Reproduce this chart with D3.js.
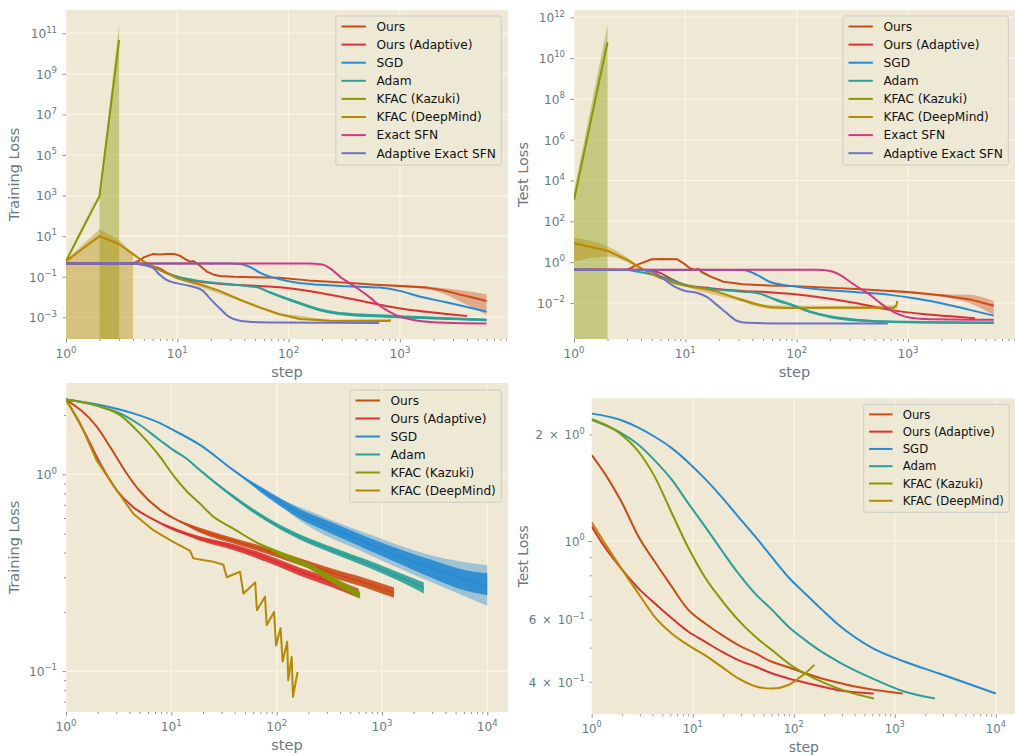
<!DOCTYPE html>
<html><head><meta charset="utf-8">
<script src="https://cdn.jsdelivr.net/npm/d3@7"></script>
<style>body{margin:0;background:#fff} svg{display:block} text{font-family:"DejaVu Sans",sans-serif}</style>
</head><body><svg id="c" width="1015" height="755"></svg>
<script>
// ---------- DATA ----------
const names = ["Ours","Ours (Adaptive)","SGD","Adam","KFAC (Kazuki)","KFAC (DeepMind)","Exact SFN","Adaptive Exact SFN"];
const colors = ["#CB4B16","#DC322F","#268BD2","#2AA198","#859900","#B58900","#D33682","#6C71C4"];

// Top-left: training loss
const tlOurs = [[1,0.45],[3,0.45],[4,0.46],[4.5,0.6],[5,0.9],[6,1.3],[7,1.25],[8,1.3],[9.5,1.3],[10.5,1.1],[12,0.7],[13,0.55],[14,0.6],[16,0.35],[18.4,0.18],[21,0.13],[24,0.108],[32,0.1],[50,0.094],[83,0.089],[150,0.066],[333,0.05],[600,0.04],[1000,0.035],[1750,0.029],[2500,0.021],[3400,0.0135],[4500,0.0095],[6000,0.0063]];
const tlAdaptive = [[1,0.45],[3.5,0.45],[5,0.4],[6,0.33],[7,0.25],[8,0.16],[10,0.1],[12,0.075],[16,0.056],[24,0.045],[37,0.039],[83,0.03],[167,0.018],[333,0.009],[660,0.0042],[1320,0.0022],[2500,0.0015],[4000,0.00115]];
const tlSGD = [[1,0.45],[30,0.45],[37,0.42],[45,0.3],[55,0.16],[65,0.11],[83,0.075],[120,0.05],[190,0.04],[333,0.034],[660,0.029],[1000,0.02],[1500,0.0105],[2600,0.0055],[4000,0.0032],[6000,0.0019]];
const tlAdam = [[1,0.45],[4,0.44],[5,0.38],[6,0.29],[7,0.21],[8,0.15],[10,0.1],[14,0.069],[24,0.047],[42,0.035],[55,0.028],[63,0.02],[83,0.011],[126,0.0049],[190,0.0023],[333,0.0014],[660,0.00115],[1320,0.00098],[6000,0.00074]];
const tlKazuki = [[1,0.59],[2,960],[3,4.6e10]];
const tlDeep = [[1,0.59],[2,10],[3,4],[4,1.3],[5,0.55],[6,0.33],[7,0.21],[8,0.15],[10,0.083],[16.7,0.039],[24,0.02],[37,0.0071],[55,0.003],[83,0.0014],[126,0.00083],[236,0.00068],[780,0.00066],[830,0.00072]];
const tlExact = [[1,0.45],[150,0.45],[200,0.4],[236,0.26],[290,0.1],[355,0.047],[437,0.022],[540,0.0093],[660,0.0037],[815,0.0018],[1000,0.00107],[1500,0.00066],[2600,0.00054],[6000,0.0005]];
const tlAdaptExact = [[1,0.45],[4,0.45],[5,0.4],[6.1,0.26],[7,0.12],[8,0.069],[10,0.047],[13,0.035],[16.7,0.022],[19.6,0.0085],[24,0.0028],[29,0.00107],[36.6,0.00068],[55,0.00057],[83,0.00055],[650,0.00053]];
// bands: [step, low (null = below axis), high]
const tlOursBand = [[700,0.037,0.043],[1000,0.031,0.04],[1750,0.024,0.033],[2500,0.014,0.027],[3400,0.0063,0.022],[6000,0.0013,0.0135]];
const tlKazukiBand = [[1,0.5,0.68],[2,null,1.9e3],[3,null,2.5e11]];
const tlDeepBand = [[1,null,0.65],[2,null,22],[3,null,6.5],[4,null,1.45],[5,0.48,0.65],[10,0.075,0.092],[37,0.0063,0.008],[83,0.0012,0.0016],[236,0.0006,0.00076],[830,0.0006,0.00085]];
// noise envelopes: [step, low, high]
const tlAdamNoise = [[55,0.028,0.028],[63,0.018,0.022],[83,0.0095,0.013],[126,0.0042,0.0058],[190,0.002,0.0028],[333,0.0012,0.0017],[660,0.00098,0.0014],[1320,0.00085,0.0012],[6000,0.00064,0.00088]];

// Top-right: test loss
const trOurs = [[1,0.42],[3,0.42],[3.66,0.74],[5,1.4],[6.4,1.45],[8.4,1.4],[9.6,0.9],[11,0.5],[12.2,0.42],[13,0.48],[14,0.33],[16.7,0.2],[22,0.11],[33,0.083],[57,0.071],[87,0.069],[346,0.049],[1050,0.034],[2070,0.023],[3600,0.015],[5900,0.0074]];
const trAdaptive = [[1,0.42],[4,0.42],[5,0.38],[6,0.29],[7.3,0.16],[10,0.077],[16.7,0.053],[33,0.039],[57,0.034],[87,0.028],[173,0.018],[346,0.0098],[690,0.0046],[1370,0.0029],[2750,0.0021],[4000,0.0018]];
const trSGD = [[1,0.42],[33,0.41],[44,0.24],[57,0.11],[76,0.077],[87,0.069],[173,0.044],[346,0.034],[690,0.025],[1050,0.018],[1800,0.011],[3600,0.0046],[5900,0.0024]];
const trAdam = [[1,0.42],[3,0.41],[3.66,0.35],[6,0.2],[10,0.077],[16.7,0.049],[33,0.036],[47,0.028],[66,0.014],[87,0.0087],[132,0.0037],[200,0.0021],[346,0.00145],[690,0.0012],[5900,0.00107]];
const trKazuki = [[1,1.1e3],[2,6e10]];
const trDeep = [[1,8.5],[2,3.6],[3,1.3],[4,0.51],[5,0.26],[6,0.165],[8,0.093],[10,0.069],[15,0.049],[20,0.034],[30,0.016],[40,0.0098],[50,0.0074],[60,0.0062],[80,0.0057],[200,0.0059],[750,0.0059],[790,0.008],[803,0.0126]];
const trExact = [[1,0.42],[150,0.42],[200,0.37],[245,0.24],[302,0.11],[370,0.052],[457,0.025],[565,0.0098],[690,0.0046],[850,0.0026],[1050,0.0019],[1580,0.0016],[5900,0.0015]];
const trAdaptExact = [[1,0.42],[4,0.41],[4.5,0.4],[5.5,0.27],[6.4,0.15],[8,0.063],[10,0.039],[12.7,0.032],[15.6,0.02],[19.2,0.0081],[23.5,0.0032],[29,0.00135],[35.6,0.00107],[87,0.001],[660,0.001]];
const trOursBand = [[700,0.038,0.046],[1050,0.03,0.038],[2070,0.019,0.027],[3600,0.0098,0.025],[5900,0.0026,0.0126]];
const trKazukiBand = [[1,null,3e3],[2,null,4.3e11]];
const trDeepBand = [[1,1.07,16],[2,1.9,5.8],[3,1.0,1.7],[4,0.45,0.58],[10,0.062,0.076],[30,0.013,0.019],[60,0.005,0.0075],[200,0.0049,0.0071],[800,0.0049,0.0075]];
const trAdamNoise = [[47,0.028,0.028],[66,0.012,0.016],[87,0.0075,0.01],[132,0.0032,0.0043],[200,0.0018,0.0025],[346,0.00125,0.0017],[690,0.00104,0.0014],[5900,0.00093,0.00124]];

// Bottom-left: training loss
const blOurs = [[1,2.4],[1.95,1.75],[2.62,1.38],[3.77,1.01],[5.04,0.82],[7.8,0.66],[10.4,0.6],[18.7,0.52],[38.8,0.46],[80.5,0.41],[167,0.36],[346,0.314],[720,0.279],[1300,0.25]];
const blAdaptive = [[1,2.4],[1.46,1.68],[2.1,1.14],[3.03,0.83],[4.36,0.68],[6.75,0.59],[10.4,0.525],[18.7,0.473],[38.8,0.428],[80.5,0.374],[167,0.32],[346,0.279],[600,0.248]];
const blSGD = [[1,2.4],[2.1,2.25],[4.36,2.04],[7.8,1.82],[10.4,1.68],[18.7,1.41],[38.8,1.05],[80.5,0.8],[167,0.63],[346,0.53],[720,0.446],[1490,0.381],[3100,0.33],[6400,0.29],[10000,0.27]];
const blAdam = [[1,2.4],[2.1,2.21],[3.26,2.04],[5.04,1.78],[7.8,1.49],[10.4,1.33],[14,1.2],[18.7,1.05],[38.8,0.77],[80.5,0.59],[167,0.48],[346,0.41],[720,0.353],[1490,0.3],[2500,0.265]];
const blKazuki = [[1,2.4],[2.1,2.21],[3.26,2.0],[5.04,1.61],[7.8,1.23],[10.4,0.99],[14,0.82],[18.7,0.71],[25,0.61],[38.8,0.53],[60,0.46],[108,0.396],[193,0.346],[346,0.29],[620,0.243]];
const blDeep = [[1,2.4],[1.36,1.82],[1.95,1.18],[3.03,0.83],[4.36,0.63],[6.75,0.52],[10.4,0.454],[15,0.41],[16.2,0.374],[25,0.36],[31.2,0.347],[33.6,0.3],[44.9,0.32],[48.4,0.248],[62.6,0.282],[65,0.204],[77.6,0.239],[80.5,0.171],[94.5,0.2],[98.7,0.135],[109,0.165],[114,0.112],[126,0.141],[129,0.09],[139,0.118],[143,0.074],[158,0.099]];
const blSGDBand = [[80.5,0.8,0.8],[167,0.58,0.68],[720,0.395,0.5],[3100,0.28,0.385],[10000,0.215,0.345]];
const blOursNoise = [[10.4,0.6,0.6],[18.7,0.505,0.535],[38.8,0.445,0.475],[80.5,0.395,0.425],[167,0.345,0.375],[346,0.298,0.33],[720,0.264,0.295],[1300,0.236,0.266]];
const blAdaptiveNoise = [[6.75,0.59,0.59],[18.7,0.46,0.485],[38.8,0.413,0.443],[80.5,0.358,0.39],[167,0.305,0.335],[346,0.265,0.295],[600,0.235,0.262]];
const blSGDNoise = [[38.8,1.05,1.05],[80.5,0.77,0.83],[167,0.595,0.665],[346,0.495,0.565],[720,0.415,0.48],[1490,0.35,0.415],[3100,0.295,0.365],[6400,0.255,0.325],[10000,0.243,0.315]];
const blAdamNoise = [[18.7,1.05,1.05],[38.8,0.755,0.785],[80.5,0.575,0.605],[167,0.465,0.495],[346,0.395,0.425],[720,0.338,0.368],[1490,0.285,0.315],[2500,0.248,0.282]];
const blKazukiNoise = [[60,0.46,0.46],[108,0.385,0.407],[193,0.335,0.357],[346,0.278,0.302],[620,0.233,0.253]];

// Bottom-right: test loss
const brOurs = [[1,1.75],[1.35,1.55],[2,1.28],[2.9,1.03],[4.2,0.875],[6.2,0.743],[9,0.64],[13.2,0.586],[19.4,0.543],[28.3,0.508],[41.5,0.482],[60.7,0.456],[88.7,0.44],[130,0.423],[190,0.409],[277,0.398],[405,0.388],[590,0.381],[865,0.375],[1200,0.371]];
const brAdaptive = [[1,1.1],[1.35,0.96],[2,0.83],[2.9,0.735],[4.2,0.667],[6.2,0.605],[9,0.555],[13.2,0.52],[19.4,0.487],[28.3,0.461],[41.5,0.442],[60.7,0.423],[88.7,0.409],[130,0.398],[190,0.388],[277,0.379],[405,0.374],[620,0.371]];
const brSGD = [[1,2.29],[2,2.19],[2.9,2.09],[4.2,1.97],[6.2,1.83],[9,1.67],[13.2,1.5],[19.4,1.33],[28.3,1.17],[41.5,1.03],[60.7,0.9],[88.7,0.79],[130,0.71],[190,0.64],[277,0.58],[590,0.5],[1260,0.456],[2700,0.423],[5800,0.392],[10000,0.371]];
const brAdam = [[1,2.2],[2,2.01],[2.9,1.87],[4.2,1.69],[6.2,1.49],[9,1.28],[13.2,1.1],[19.4,0.94],[28.3,0.81],[41.5,0.71],[60.7,0.64],[88.7,0.573],[130,0.525],[190,0.486],[277,0.456],[590,0.41],[1260,0.375],[2500,0.359]];
const brKazuki = [[1,2.21],[2,1.99],[2.9,1.79],[4.2,1.52],[6.2,1.2],[9,0.96],[13.2,0.79],[19.4,0.68],[28.3,0.598],[41.5,0.537],[60.7,0.492],[88.7,0.451],[130,0.422],[190,0.4],[277,0.383],[405,0.37],[620,0.359]];
const brDeep = [[1,1.13],[1.35,0.985],[2,0.83],[2.9,0.711],[4.2,0.611],[6.2,0.548],[9,0.508],[13.2,0.476],[19.4,0.441],[28.3,0.409],[41.5,0.389],[60.7,0.383],[88.7,0.392],[111,0.409],[130,0.423],[160,0.447]];

// tick values
const xMajorTop = [1,10,100,1000];
const xMajorBottom = [1,10,100,1000,10000];
const tlYMajor = [1e-3,1e-1,1e1,1e3,1e5,1e7,1e9,1e11];
const trYMajor = [1e-2,1e0,1e2,1e4,1e6,1e8,1e10,1e12];
const blYMajor = [0.1,1];
const blYMinor = [0.07,0.08,0.09,0.2,0.3,0.4,0.5,0.6,0.7,0.8,0.9,2];
const brYMajor = [1];
const brYMinor = [0.4,0.5,0.6,0.7,0.8,0.9,2];
const brYMinorLabeled = [0.4,0.6,2];

// ---------- DRAWING ----------
const svg = d3.select("#c");
const BG = "#eee8d5", GRID = "#fdf6e3", TICK = "#657b83";

const panels = [
  {id:"tl", box:[66,508,10,339], xDom:[1,9360], yDom:[8.5e-5,1.41e12], s:1, ylPad:9,
   series:[tlOurs,tlAdaptive,tlSGD,tlAdam,tlKazuki,tlDeep,tlExact,tlAdaptExact], jagged:[0,4,5],
   bands:[[0,tlOursBand],[4,tlKazukiBand],[5,tlDeepBand]], noise:[[3,tlAdamNoise]],
   xMajor:xMajorTop, yMajor:tlYMajor, yMinor:[], yMinorLab:[], ylabel:"Training Loss", legTop:6},
  {id:"tr", box:[574,1015,10,339], xDom:[1,9160], yDom:[1.72e-4,2.28e12], s:1, ylPad:9,
   series:[trOurs,trAdaptive,trSGD,trAdam,trKazuki,trDeep,trExact,trAdaptExact], jagged:[0,4,5],
   bands:[[0,trOursBand],[4,trKazukiBand],[5,trDeepBand]], noise:[[3,trAdamNoise]],
   xMajor:xMajorTop, yMajor:trYMajor, yMinor:[], yMinorLab:[], ylabel:"Test Loss", legTop:6},
  {id:"bl", box:[66,508,383,712], xDom:[1,15740], yDom:[0.062,2.91], s:1, ylPad:9,
   series:[blOurs,blAdaptive,blSGD,blAdam,blKazuki,blDeep], jagged:[5],
   bands:[[2,blSGDBand]], noise:[[0,blOursNoise],[1,blAdaptiveNoise],[2,blSGDNoise],[3,blAdamNoise],[4,blKazukiNoise]],
   xMajor:xMajorBottom, yMajor:blYMajor, yMinor:blYMinor, yMinorLab:[], ylabel:"Training Loss", legTop:7},
  {id:"br", box:[591.7,1016,398.3,714.3], xDom:[1,15850], yDom:[0.324,2.53], s:0.96, ylPad:7,
   series:[brOurs,brAdaptive,brSGD,brAdam,brKazuki,brDeep], jagged:[],
   bands:[], noise:[],
   xMajor:xMajorBottom, yMajor:brYMajor, yMinor:brYMinor, yMinorLab:brYMinorLabeled, ylabel:"Test Loss", legTop:6}
];

function supLabel(g, x, y, anchor, mant, exp, fs) {
  const t = g.append("text").attr("x", x).attr("y", y).attr("text-anchor", anchor)
    .attr("font-size", fs).attr("fill", TICK);
  t.append("tspan").text(mant ? (mant + "\u2002\u00d7\u200210") : "10");
  t.append("tspan").attr("dy", -0.45*fs).attr("font-size", fs*0.7).text(String(exp).replace("-", "\u2212"));
}
function decomp(v) {
  const e = Math.floor(Math.log10(v) + 1e-9);
  const m = Math.round(v / Math.pow(10, e));
  return [m, e];
}

panels.forEach(p => {
  const [x0,x1,y0,y1] = p.box, s = p.s, tfs = 12.2*s;
  const x = d3.scaleLog().domain(p.xDom).range([x0,x1]);
  const y = d3.scaleLog().domain(p.yDom).range([y1,y0]);
  const g = svg.append("g");
  g.append("rect").attr("x",x0).attr("y",y0).attr("width",x1-x0).attr("height",y1-y0).attr("fill",BG);
  const clipId = "clip-"+p.id;
  g.append("clipPath").attr("id",clipId).append("rect").attr("x",x0).attr("y",y0).attr("width",x1-x0).attr("height",y1-y0);

  // grid
  const grid = g.append("g").attr("clip-path",`url(#${clipId})`);
  p.xMajor.forEach(v => grid.append("line").attr("x1",x(v)).attr("x2",x(v)).attr("y1",y0).attr("y2",y1).attr("stroke",GRID).attr("stroke-width",1.1));
  p.yMajor.forEach(v => grid.append("line").attr("y1",y(v)).attr("y2",y(v)).attr("x1",x0).attr("x2",x1).attr("stroke",GRID).attr("stroke-width",1.1));

  // x axis ticks
  const xMinor = [];
  for (let e=0;e<=4;e++) for (let m=2;m<=9;m++){ const v=m*Math.pow(10,e); if (v<=p.xDom[1]) xMinor.push(v); }
  const xa = g.append("g").attr("transform",`translate(0,${y1})`);
  xa.call(d3.axisBottom(x).tickValues(p.xMajor).tickSize(3.5).tickFormat(""));
  xa.append("g").call(d3.axisBottom(x).tickValues(xMinor).tickSize(2).tickFormat(""));
  xa.selectAll(".domain").remove();
  xa.selectAll("line").attr("stroke",TICK).attr("stroke-width",0.8);
  p.xMajor.forEach(v => supLabel(g, x(v), y1+19*s, "middle", null, Math.round(Math.log10(v)), tfs));

  // y axis ticks
  const ya = g.append("g").attr("transform",`translate(${x0},0)`);
  ya.call(d3.axisLeft(y).tickValues(p.yMajor).tickSize(3.5).tickFormat(""));
  if (p.yMinor.length) ya.append("g").call(d3.axisLeft(y).tickValues(p.yMinor).tickSize(2).tickFormat(""));
  ya.selectAll(".domain").remove();
  ya.selectAll("line").attr("stroke",TICK).attr("stroke-width",0.8);
  p.yMajor.forEach(v => supLabel(g, x0-p.ylPad, y(v)+4.8*s, "end", null, Math.round(Math.log10(v)), tfs));
  p.yMinorLab.forEach(v => { const [m,e] = decomp(v); supLabel(g, x0-p.ylPad, y(v)+4.8*s, "end", m, e, tfs); });

  // axis labels
  g.append("text").attr("x",(x0+x1)/2).attr("y",y1+38).attr("text-anchor","middle")
    .attr("font-size",14.5*s).attr("fill",TICK).text("step");
  const lx = p.id==="tl"||p.id==="bl" ? 19 : 527.5;
  g.append("text").attr("transform",`translate(${lx},${(y0+y1)/2}) rotate(-90)`).attr("text-anchor","middle")
    .attr("font-size",14.5*s).attr("fill",TICK).text(p.ylabel);

  // plot content
  const plot = g.append("g").attr("clip-path",`url(#${clipId})`);
  const floorY = y1 + 5;
  function bandPath(band) {
    const up = band.map(d => [x(d[0]), y(d[2])]);
    const low = [];
    for (let i = band.length-1; i >= 0; i--) {
      const d = band[i], X = x(d[0]);
      if (d[1] == null) {
        if (i+1 < band.length && band[i+1][1] != null) low.push([X, y(d[2])]);
        low.push([X, floorY]);
        if (i-1 >= 0 && band[i-1][1] != null) low.push([X, y(d[2])]);
      } else low.push([X, y(d[1])]);
    }
    return "M" + up.concat(low).map(q => q[0].toFixed(2)+","+q[1].toFixed(2)).join("L") + "Z";
  }
  p.bands.forEach(([k, band]) => {
    const hasNull = band.some(d => d[1] == null);
    const path = hasNull ? bandPath(band)
      : d3.area().x(d => x(d[0])).y0(d => y(d[1])).y1(d => y(d[2])).curve(d3.curveMonotoneX)(band);
    plot.append("path").attr("d", path).attr("fill", colors[k]).attr("fill-opacity", 0.4);
  });
  const smoothLine = d3.line().x(d => x(d[0])).y(d => y(d[1])).curve(d3.curveMonotoneX);
  const sharpLine = d3.line().x(d => x(d[0])).y(d => y(d[1]));
  const area = d3.area().x(d => x(d[0])).y0(d => y(d[1])).y1(d => y(d[2])).curve(d3.curveMonotoneX);
  p.series.forEach((ser, k) => {
    p.noise.filter(n => n[0]===k).forEach(n => {
      plot.append("path").attr("d", area(n[1])).attr("fill", colors[k]).attr("fill-opacity", 0.9);
    });
    const ln = p.jagged.includes(k) ? sharpLine : smoothLine;
    plot.append("path").attr("d", ln(ser)).attr("fill","none").attr("stroke", colors[k])
      .attr("stroke-width", 2).attr("stroke-linejoin","round");
  });

  // legend
  const n = p.series.length, fs = 12.2*s, rowH = (n===8?18.1:18)*s;
  const lg = g.append("g");
  const right = x1 - 6.7, top = y0 + p.legTop;
  const frame = lg.append("rect");
  const texts = [];
  for (let i=0;i<n;i++){
    const t = lg.append("text").attr("font-size",fs).attr("fill","#111").text(names[i]);
    texts.push(t);
  }
  const maxW = d3.max(texts, t => t.node().getComputedTextLength());
  const w = 3.33*fs + maxW + 5.4, h = n*rowH + 4.3;
  const left = right - w;
  frame.attr("x",left).attr("y",top).attr("width",w).attr("height",h).attr("rx",2.5)
    .attr("fill",BG).attr("fill-opacity",0.8).attr("stroke","#cccccc").attr("stroke-width",1);
  for (let i=0;i<n;i++){
    const cy = top + 10.5*s + i*rowH;
    lg.append("line").attr("x1",left+0.46*fs).attr("x2",left+2.46*fs).attr("y1",cy).attr("y2",cy)
      .attr("stroke",colors[i]).attr("stroke-width",2);
    texts[i].attr("x", left+3.33*fs).attr("y", cy+0.36*fs);
  }
});
</script></body></html>
